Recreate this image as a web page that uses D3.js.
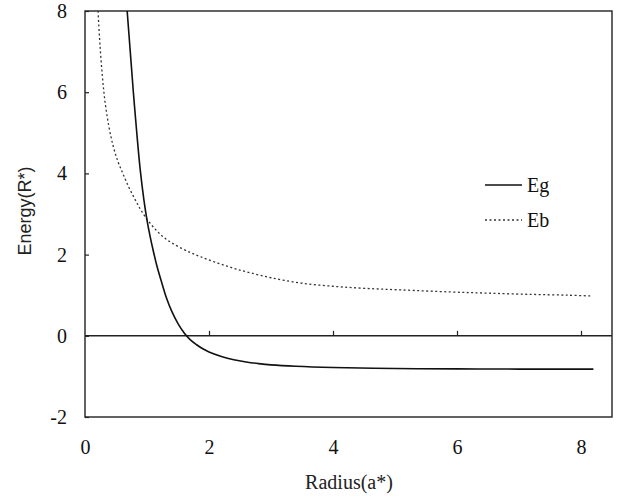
<!DOCTYPE html>
<html>
<head>
<meta charset="utf-8">
<script src="https://cdn.jsdelivr.net/npm/d3@7.9.0/dist/d3.min.js"></script>
<style>
  body { margin: 0; background: #fff; }
  svg { display: block; }
  .tick text { font-family: "Liberation Serif", "Times New Roman", serif; font-size: 20px; fill: #111; }
  .tick line { stroke: #222; stroke-width: 1.2; }
</style>
</head>
<body>
<svg width="630" height="500"></svg>
<script>
// values
const ebRadius = [0.21, 0.24, 0.28, 0.32, 0.38, 0.45, 0.53, 0.61, 0.7, 0.8, 0.89, 1.0, 1.15, 1.3, 1.5, 1.7, 1.86, 2.05, 2.26, 2.45, 2.67, 3.0, 3.48, 4.0, 4.5, 5.1, 5.9, 6.5, 7.2, 7.8, 8.17];
const ebEnergy = [8.0, 7.2, 6.4, 5.8, 5.2, 4.7, 4.3, 4.0, 3.68, 3.38, 3.13, 2.87, 2.6, 2.39, 2.2, 2.05, 1.95, 1.84, 1.73, 1.64, 1.55, 1.43, 1.3, 1.22, 1.17, 1.13, 1.08, 1.05, 1.02, 1.0, 0.98];
const egRadius = [0.68, 0.73, 0.78, 0.835, 0.89, 0.95, 1.0, 1.05, 1.1, 1.16, 1.23, 1.31, 1.4, 1.5, 1.6, 1.7, 1.8, 1.9, 2.0, 2.2, 2.4, 2.6, 2.8, 3.0, 3.4, 4.0, 5.0, 6.0, 7.0, 8.2];
const egEnergy = [8.0, 7.0, 6.0, 5.0, 4.1, 3.35, 2.85, 2.45, 2.1, 1.72, 1.35, 0.95, 0.6, 0.3, 0.07, -0.1, -0.22, -0.32, -0.4, -0.51, -0.59, -0.645, -0.685, -0.715, -0.75, -0.78, -0.805, -0.815, -0.82, -0.82];
const xTicks = [0, 2, 4, 6, 8];
const yTicks = [-2, 0, 2, 4, 6, 8];
const seriesNames = ["Eg", "Eb"];

const svg = d3.select("svg");
const m = { left: 85, right: 612, top: 11, bottom: 417 };

const x = d3.scaleLinear().domain([0, 8.5]).range([m.left, m.right]);
const y = d3.scaleLinear().domain([-2, 8]).range([m.bottom, m.top]);

// frame
svg.append("rect")
  .attr("x", m.left).attr("y", m.top)
  .attr("width", m.right - m.left).attr("height", m.bottom - m.top)
  .attr("fill", "none").attr("stroke", "#222").attr("stroke-width", 1.4);

// zero line
svg.append("line")
  .attr("x1", m.left).attr("x2", m.right)
  .attr("y1", y(0)).attr("y2", y(0))
  .attr("stroke", "#222").attr("stroke-width", 1.4);

// y axis, inner ticks (plain hyphen for negatives, like the original)
const yAxis = svg.append("g")
  .attr("transform", `translate(${m.left},0)`)
  .call(d3.axisLeft(y).tickValues(yTicks).tickFormat(d => String(d))
    .tickSizeInner(-4).tickSizeOuter(0).tickPadding(18));
yAxis.select(".domain").remove();

// x labels at bottom
const xAxis = svg.append("g")
  .attr("transform", `translate(0,${m.bottom})`)
  .call(d3.axisBottom(x).tickValues(xTicks).tickFormat(d => String(d)).tickSize(0).tickPadding(23));
xAxis.select(".domain").remove();

// x tick marks sit on the zero line
const xMarks = svg.append("g")
  .attr("transform", `translate(0,${y(0)})`)
  .call(d3.axisBottom(x).tickValues(xTicks.filter(d => d > 0)).tickSizeInner(-5).tickSizeOuter(0).tickFormat(""));
xMarks.select(".domain").remove();

svg.append("clipPath").attr("id", "plot")
  .append("rect").attr("x", m.left).attr("y", m.top)
  .attr("width", m.right - m.left).attr("height", m.bottom - m.top);

const line = d3.line().x(d => x(d[0])).y(d => y(d[1])).curve(d3.curveCatmullRom.alpha(0.5));

const ebData = ebRadius.map((r, i) => [r, ebEnergy[i]]);
const egData = egRadius.map((r, i) => [r, egEnergy[i]]);

svg.append("path")
  .datum(ebData)
  .attr("clip-path", "url(#plot)")
  .attr("d", line)
  .attr("fill", "none")
  .attr("stroke", "#333")
  .attr("stroke-width", 1.3)
  .attr("stroke-dasharray", "2,2.5");

svg.append("path")
  .datum(egData)
  .attr("clip-path", "url(#plot)")
  .attr("d", line)
  .attr("fill", "none")
  .attr("stroke", "#111")
  .attr("stroke-width", 1.6);

// legend
const legend = svg.append("g").attr("transform", "translate(485,185)");
seriesNames.forEach((name, i) => {
  const row = legend.append("g").attr("transform", `translate(0,${i * 35})`);
  row.append("line")
    .attr("x1", 0).attr("x2", 37)
    .attr("stroke", i === 0 ? "#111" : "#333")
    .attr("stroke-width", i === 0 ? 1.6 : 1.3)
    .attr("stroke-dasharray", i === 0 ? null : "2,2.5");
  row.append("text")
    .attr("x", 42).attr("dy", "0.35em")
    .style("font-family", "'Liberation Serif', 'Times New Roman', serif")
    .style("font-size", "20px")
    .attr("fill", "#111")
    .text(name);
});

// axis titles
svg.append("text")
  .attr("transform", "translate(31,211) rotate(-90)")
  .attr("text-anchor", "middle")
  .style("font-family", "'Liberation Sans', Arial, sans-serif")
  .style("font-size", "18px")
  .attr("fill", "#222")
  .text("Energy(R*)");

svg.append("text")
  .attr("x", 349).attr("y", 489)
  .attr("text-anchor", "middle")
  .style("font-family", "'Liberation Serif', 'Times New Roman', serif")
  .style("font-size", "20px")
  .attr("fill", "#222")
  .text("Radius(a*)");
</script>
</body>
</html>
